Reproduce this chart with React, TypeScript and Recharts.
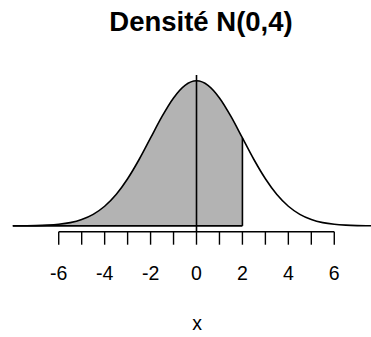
import React from 'react';
import {
  Area,
  ComposedChart,
  Line,
  ReferenceLine,
  XAxis,
  YAxis,
} from 'recharts';

// N(0,4) density sampled every 0.5 on [-8, 8]
const X_VALUES = [
  -8, -7.5, -7, -6.5, -6, -5.5, -5, -4.5, -4, -3.5, -3, -2.5, -2, -1.5, -1, -0.5,
  0, 0.5, 1, 1.5, 2, 2.5, 3, 3.5, 4, 4.5, 5, 5.5, 6, 6.5, 7, 7.5, 8,
];
const DENSITY = [
  0.0001, 0.0002, 0.0004, 0.001, 0.0022, 0.0045, 0.0088, 0.0159, 0.027, 0.0431,
  0.0648, 0.0913, 0.121, 0.1506, 0.176, 0.1933, 0.1995, 0.1933, 0.176, 0.1506,
  0.121, 0.0913, 0.0648, 0.0431, 0.027, 0.0159, 0.0088, 0.0045, 0.0022, 0.001,
  0.0004, 0.0002, 0.0001,
];
const SHADE_UPPER = 2;
const TICKS = [-6, -5, -4, -3, -2, -1, 0, 1, 2, 3, 4, 5, 6];
const LABELED_TICKS = [-6, -4, -2, 0, 2, 4, 6];

const Y_MIN = -0.008;
const Y_MAX = 0.2075;

const WIDTH = 371;
const HEIGHT = 337;
const INK = '#000000';
const SHADE = '#b3b3b3';
const FONT = '"Liberation Sans", Arial, Helvetica, sans-serif';

const rows = X_VALUES.map((x, i) => ({
  x,
  density: DENSITY[i],
  shaded: x <= SHADE_UPPER ? DENSITY[i] : null,
}));

const shadeTop = DENSITY[X_VALUES.indexOf(SHADE_UPPER)];

function TickLabel({ x, y, payload }: { x?: number; y?: number; payload?: { value: number } }) {
  const v = payload?.value ?? 0;
  if (!LABELED_TICKS.includes(v)) return null;
  return (
    <text x={x} y={(y ?? 0) + 35.5} textAnchor="middle" fill={INK} fontSize={19.5} fontFamily={FONT}>
      {String(v)}
    </text>
  );
}

export default function App() {
  return (
    <div style={{ position: 'relative', width: WIDTH, height: HEIGHT, overflow: 'hidden', background: '#fff' }}>
      <style>{'body{margin:0}'}</style>
      <ComposedChart
        width={WIDTH}
        height={HEIGHT}
        data={rows}
        margin={{ top: 75, right: -9.2, bottom: 75.3, left: 12.8 }}
      >
        <XAxis
          dataKey="x"
          type="number"
          domain={[-8, 8]}
          ticks={TICKS}
          interval={0}
          axisLine={false}
          tickLine={{ stroke: INK, strokeWidth: 1.4 }}
          tickSize={13}
          tickMargin={0}
          height={30}
          tick={<TickLabel />}
        />
        <YAxis hide type="number" domain={[Y_MIN, Y_MAX]} allowDataOverflow />
        <Area
          dataKey="shaded"
          type="monotone"
          baseValue={0}
          fill={SHADE}
          fillOpacity={1}
          stroke="none"
          isAnimationActive={false}
        />
        <Line
          dataKey="density"
          type="monotone"
          stroke={INK}
          strokeWidth={1.6}
          dot={false}
          activeDot={false}
          isAnimationActive={false}
        />
        <ReferenceLine
          segment={[{ x: X_VALUES[0], y: 0 }, { x: SHADE_UPPER, y: 0 }]}
          stroke={INK}
          strokeWidth={1.6}
          ifOverflow="visible"
        />
        <ReferenceLine
          segment={[{ x: SHADE_UPPER, y: 0 }, { x: SHADE_UPPER, y: shadeTop }]}
          stroke={INK}
          strokeWidth={1.6}
          ifOverflow="visible"
        />
        <ReferenceLine x={0} stroke={INK} strokeWidth={1.6} ifOverflow="visible" />
        <ReferenceLine
          segment={[{ x: TICKS[0], y: Y_MIN }, { x: TICKS[TICKS.length - 1], y: Y_MIN }]}
          stroke={INK}
          strokeWidth={1.4}
          ifOverflow="visible"
        />
      </ComposedChart>
      <svg
        width={WIDTH}
        height={HEIGHT}
        style={{ position: 'absolute', left: 0, top: 0, pointerEvents: 'none' }}
      >
        <text x={201} y={31} textAnchor="middle" fontSize={27.5} fontWeight="bold" fontFamily={FONT} fill={INK}>
          Densité N(0,4)
        </text>
        <text x={197} y={330} textAnchor="middle" fontSize={19.5} fontFamily={FONT} fill={INK}>
          x
        </text>
      </svg>
    </div>
  );
}
